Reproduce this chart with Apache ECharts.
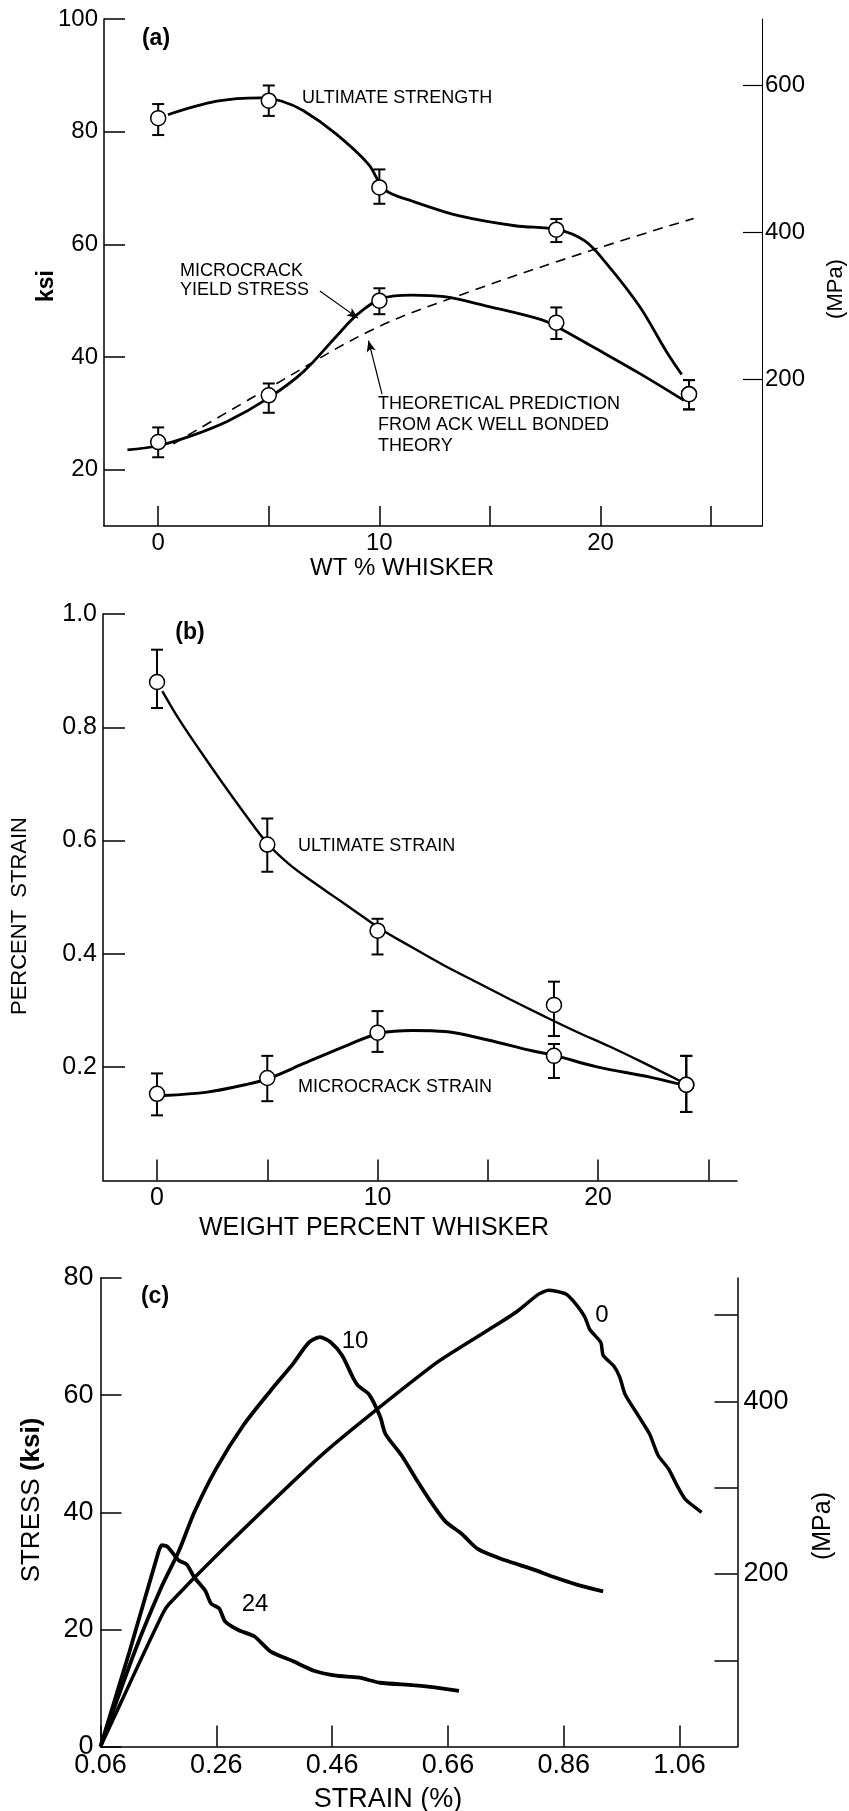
<!DOCTYPE html>
<html>
<head>
<meta charset="utf-8">
<script src="https://cdn.jsdelivr.net/npm/echarts@6/dist/echarts.min.js"></script>
<style>
  html, body { margin: 0; padding: 0; background: #fff; }
  #chart { width: 849px; height: 1811px; }
</style>
</head>
<body>
<div id="chart"></div>
<script>
// Panel (a): strength vs wt % whisker
const wtPoints = [0, 5, 10, 18, 24];
const ultStrength = [82.4, 85.5, 70.1, 62.6, 33.4];
const ultStrengthLo = [79.4, 82.8, 67.2, 60.4, 30.7];
const ultStrengthHi = [84.9, 88.2, 73.3, 64.5, 35.9];
const mcYield = [24.9, 33.2, 50.0, 46.1, 33.4];
const mcYieldLo = [22.2, 30.1, 47.6, 43.2, 30.7];
const mcYieldHi = [27.5, 35.3, 52.2, 48.8, 35.9];

// traced curves (x, ksi)
const ultStrengthCurve = [
    [0.44, 83.0], [2.65, 85.4], [4.61, 86.0], [5.59, 85.4], [6.57, 83.7], [8.04, 79.6],
    [9.51, 74.2], [10.24, 69.7], [11.47, 67.7], [13.68, 65.0], [16.13, 63.3], [18.07, 62.6],
    [19.29, 60.6], [20.29, 56.5], [21.76, 49.0], [22.99, 40.9], [23.67, 36.9]
];
const mcYieldCurve = [
    [-1.39, 23.5], [-0.05, 24.2], [1.42, 25.9], [3.14, 28.6], [4.98, 32.7], [6.57, 37.4],
    [8.04, 43.6], [9.02, 47.6], [10.12, 50.4], [11.47, 51.0], [12.94, 50.7], [14.9, 49.0],
    [17.35, 46.6], [18.07, 45.3], [19.79, 41.5], [21.76, 37.1], [23.77, 32.3]
];
const ackTheory = [
    [0.69, 24.6], [5.1, 34.7], [9.76, 45.0], [14.16, 51.7], [19.79, 59.2], [24.21, 64.6]
];
const arrowsA = [
    [[7.31, 51.7], [9.03, 46.9]],
    [[10.12, 33.4], [9.51, 42.9]]
];

// Panel (b): strain vs weight percent whisker
const ultStrain = [0.880, 0.593, 0.441, 0.310, 0.169];
const ultStrainLo = [0.834, 0.545, 0.399, 0.255, 0.121];
const ultStrainHi = [0.937, 0.639, 0.462, 0.351, 0.220];
const mcStrain = [0.153, 0.181, 0.261, 0.220, 0.169];
const mcStrainLo = [0.115, 0.140, 0.227, 0.181, 0.121];
const mcStrainHi = [0.189, 0.220, 0.299, 0.241, 0.220];

const ultStrainCurve = [
    [0.24, 0.864], [1.0, 0.814], [2.0, 0.756], [3.0, 0.700], [4.0, 0.646], [5.05, 0.593],
    [6.0, 0.558], [7.0, 0.529], [8.0, 0.502], [9.0, 0.475], [10.1, 0.445], [11.5, 0.413],
    [13.0, 0.380], [14.5, 0.350], [16.0, 0.320], [17.5, 0.291], [19.0, 0.263], [20.5, 0.237],
    [22.0, 0.209], [23.7, 0.176]
];
const mcStrainCurve = [
    [0.3, 0.150], [2.28, 0.156], [4.0, 0.169], [5.05, 0.180], [6.69, 0.207], [8.65, 0.239],
    [10.1, 0.260], [11.6, 0.265], [13.07, 0.263], [15.0, 0.248], [17.0, 0.229], [18.1, 0.220],
    [19.9, 0.201], [22.4, 0.182], [24.0, 0.167]
];

// Panel (c): stress-strain curves for 0, 10, 24 wt %
const curve0 = [
    [0.06, 0], [0.12, 12.8], [0.168, 22.8], [0.178, 24.3], [0.26, 32.6], [0.449, 50.4],
    [0.637, 65.3], [0.731, 71.2], [0.778, 74.2], [0.816, 77.2], [0.834, 77.9], [0.863, 77.3],
    [0.877, 76.0], [0.896, 73.4], [0.905, 71.2], [0.924, 69.0], [0.928, 66.8], [0.947, 64.9],
    [0.957, 63.0], [0.966, 60.1], [0.99, 56.3], [1.008, 53.4], [1.023, 49.7], [1.041, 47.4],
    [1.056, 44.5], [1.07, 42.2], [1.098, 40.0]
];
const curve10 = [
    [0.06, 0], [0.119, 16.2], [0.166, 27.4], [0.195, 33.3], [0.222, 40.0], [0.26, 47.5],
    [0.307, 54.9], [0.354, 60.8], [0.392, 65.3], [0.42, 69.0], [0.439, 69.9], [0.458, 69.0],
    [0.477, 66.8], [0.496, 63.0], [0.505, 61.6], [0.524, 60.1], [0.543, 56.3], [0.552, 53.4],
    [0.58, 49.7], [0.608, 45.2], [0.627, 42.3], [0.655, 38.5], [0.684, 36.3], [0.712, 33.7],
    [0.759, 31.8], [0.806, 30.3], [0.844, 28.9], [0.881, 27.7], [0.928, 26.5]
];
const curve24 = [
    [0.06, 0], [0.11, 16.2], [0.16, 33.2], [0.166, 34.4], [0.176, 34.1], [0.195, 31.8],
    [0.209, 31.1], [0.222, 28.9], [0.241, 26.6], [0.251, 24.4], [0.265, 23.6], [0.275, 21.4],
    [0.298, 19.9], [0.326, 18.8], [0.354, 16.2], [0.392, 14.6], [0.43, 12.9], [0.467, 12.1],
    [0.505, 11.8], [0.543, 10.9], [0.599, 10.5], [0.637, 10.1], [0.679, 9.5]
];

// tick values
const wtTicks = [0, 5, 10, 15, 20, 25];
const wtLabels = [0, 10, 20];
const ksiTicksA = [20, 40, 60, 80, 100];
const mpaTicksA = [200, 400, 600];
const strainTicksB = [0.2, 0.4, 0.6, 0.8, 1.0];
const strainTicksC = [0.06, 0.26, 0.46, 0.66, 0.86, 1.06];
const mpaTicksC = [100, 200, 300, 400, 500];
const mpaLabelsC = [200, 400];

const FONT = 'Liberation Sans, Arial, sans-serif';
const BLACK = '#000';

function pts(xs, ys) {
    return xs.map((x, i) => [x, ys[i]]);
}
function bars(xs, lo, hi) {
    return xs.map((x, i) => [x, lo[i], hi[i]]);
}

// Error bar drawn with the axis scale
function errorBar(params, api) {
    const x = api.value(0);
    const top = api.coord([x, api.value(2)]);
    const bot = api.coord([x, api.value(1)]);
    const w = 6;
    const st = { stroke: BLACK, lineWidth: 2 };
    return {
        type: 'group',
        children: [
            { type: 'line', shape: { x1: top[0], y1: top[1], x2: bot[0], y2: bot[1] }, style: st },
            { type: 'line', shape: { x1: top[0] - w, y1: top[1], x2: top[0] + w, y2: top[1] }, style: st },
            { type: 'line', shape: { x1: bot[0] - w, y1: bot[1], x2: bot[0] + w, y2: bot[1] }, style: st }
        ]
    };
}

function axisBase(extra) {
    return Object.assign({
        type: 'value',
        splitLine: { show: false },
        axisLine: { show: true, onZero: false, lineStyle: { color: BLACK, width: 1.5 } },
        axisTick: { show: true, inside: true, length: 20, lineStyle: { color: BLACK, width: 1.5 } },
        axisLabel: { color: BLACK, fontFamily: FONT, fontSize: 24, margin: 6 }
    }, extra);
}

function curve(name, data, xi, yi, width, dashed, smooth) {
    return {
        name: name, type: 'line', xAxisIndex: xi, yAxisIndex: yi,
        data: data, smooth: smooth == null ? 0.35 : smooth, symbol: 'none', z: 2,
        lineStyle: { color: BLACK, width: width, type: dashed ? [10, 7] : 'solid' }
    };
}
function circles(name, data, xi, yi) {
    return {
        name: name, type: 'scatter', xAxisIndex: xi, yAxisIndex: yi,
        data: data, symbol: 'circle', symbolSize: 15, z: 5,
        itemStyle: { color: '#fff', borderColor: BLACK, borderWidth: 1.5, opacity: 1 }
    };
}
function errors(name, data, xi, yi) {
    return {
        name: name, type: 'custom', xAxisIndex: xi, yAxisIndex: yi,
        data: data, renderItem: errorBar, z: 3,
        encode: { x: 0, y: [1, 2] }
    };
}
function txt(text, x, y, size, opts) {
    opts = opts || {};
    return {
        type: 'text', x: x, y: y, rotation: opts.rot || 0, z: 10,
        style: {
            text: text, fill: BLACK, fontFamily: FONT, fontSize: size,
            fontWeight: opts.bold ? 'bold' : 'normal',
            align: opts.align || 'center', verticalAlign: 'middle',
            lineHeight: opts.lh || size, rich: opts.rich
        }
    };
}

const chart = echarts.init(document.getElementById('chart'));

const option = {
    backgroundColor: '#fff',
    animation: false,
    grid: [
        { left: 104, top: 19, width: 658, height: 507, outerBoundsMode: 'none' },
        { left: 103, top: 614, width: 634, height: 566.5, outerBoundsMode: 'none' },
        { left: 100.5, top: 1278, width: 637, height: 468.6, outerBoundsMode: 'none' }
    ],
    xAxis: [
        axisBase({
            gridIndex: 0, min: -2.45, max: 27.3,
            axisTick: { show: true, inside: true, length: 20, customValues: wtTicks, lineStyle: { color: BLACK, width: 1.5 } },
            axisLabel: { color: BLACK, fontFamily: FONT, fontSize: 24, margin: 5, customValues: wtLabels }
        }),
        axisBase({
            gridIndex: 1, min: -2.45, max: 26.3,
            axisTick: { show: true, inside: true, length: 21, customValues: wtTicks, lineStyle: { color: BLACK, width: 1.5 } },
            axisLabel: { color: BLACK, fontFamily: FONT, fontSize: 25, margin: 5, customValues: wtLabels }
        }),
        axisBase({
            gridIndex: 2, min: 0.06, max: 1.16,
            axisTick: { show: true, inside: true, length: 21, customValues: strainTicksC, lineStyle: { color: BLACK, width: 1.5 } },
            axisLabel: {
                color: BLACK, fontFamily: FONT, fontSize: 27, margin: 5, customValues: strainTicksC,
                formatter: v => v.toFixed(2)
            }
        })
    ],
    yAxis: [
        axisBase({
            gridIndex: 0, min: 10, max: 100,
            axisTick: { show: true, inside: true, length: 21, customValues: ksiTicksA, lineStyle: { color: BLACK, width: 1.5 } },
            axisLabel: { color: BLACK, fontFamily: FONT, fontSize: 24, margin: 6, customValues: ksiTicksA }
        }),
        axisBase({
            gridIndex: 0, min: 0, max: 690, position: 'right',
            axisLine: { show: true, onZero: false, lineStyle: { color: BLACK, width: 1 } },
            axisTick: { show: true, inside: true, length: 19, customValues: mpaTicksA, lineStyle: { color: BLACK, width: 1.2 } },
            axisLabel: { color: BLACK, fontFamily: FONT, fontSize: 24, margin: 3, customValues: mpaTicksA }
        }),
        axisBase({
            gridIndex: 1, min: 0, max: 1,
            axisTick: { show: true, inside: true, length: 22, customValues: strainTicksB, lineStyle: { color: BLACK, width: 1.5 } },
            axisLabel: {
                color: BLACK, fontFamily: FONT, fontSize: 25, margin: 6, customValues: strainTicksB,
                formatter: v => v.toFixed(1)
            }
        }),
        axisBase({
            gridIndex: 2, min: 0, max: 80, interval: 20,
            axisTick: { show: true, inside: true, length: 21, lineStyle: { color: BLACK, width: 1.5 } },
            axisLabel: { color: BLACK, fontFamily: FONT, fontSize: 27, margin: 7 }
        }),
        axisBase({
            gridIndex: 2, min: 0, max: 543, position: 'right',
            axisTick: { show: true, inside: true, length: 23, customValues: mpaTicksC, lineStyle: { color: BLACK, width: 1.5 } },
            axisLabel: { color: BLACK, fontFamily: FONT, fontSize: 27, margin: 6, customValues: mpaLabelsC }
        })
    ],
    series: [
        // (a)
        curve('Ultimate strength', ultStrengthCurve, 0, 0, 2.8),
        Object.assign(curve('Microcrack yield stress', mcYieldCurve, 0, 0, 2.8), {
            markLine: {
                silent: true, symbol: ['none', 'arrow'], symbolSize: [7, 11],
                lineStyle: { color: BLACK, width: 1.2, type: 'solid' },
                label: { show: false },
                data: arrowsA.map(a => [{ coord: a[0] }, { coord: a[1] }])
            }
        }),
        curve('ACK theory', ackTheory, 0, 0, 1.6, true),
        errors('Ultimate strength err', bars(wtPoints, ultStrengthLo, ultStrengthHi), 0, 0),
        errors('Microcrack yield err', bars(wtPoints, mcYieldLo, mcYieldHi), 0, 0),
        circles('Ultimate strength pts', pts(wtPoints, ultStrength), 0, 0),
        circles('Microcrack yield pts', pts(wtPoints, mcYield), 0, 0),
        // (b)
        curve('Ultimate strain', ultStrainCurve, 1, 2, 2.4),
        curve('Microcrack strain', mcStrainCurve, 1, 2, 3),
        errors('Ultimate strain err', bars(wtPoints, ultStrainLo, ultStrainHi), 1, 2),
        errors('Microcrack strain err', bars(wtPoints, mcStrainLo, mcStrainHi), 1, 2),
        circles('Ultimate strain pts', pts(wtPoints, ultStrain), 1, 2),
        circles('Microcrack strain pts', pts(wtPoints, mcStrain), 1, 2),
        // (c)
        curve('0', curve0, 2, 3, 3.5, false, 0.2),
        curve('10', curve10, 2, 3, 3.8, false, 0.25),
        curve('24', curve24, 2, 3, 3.8, false, 0.2)
    ],
    graphic: [
        // (a)
        txt('(a)', 156, 39, 23, { bold: true }),
        txt('ULTIMATE STRENGTH', 302, 98, 18, { align: 'left' }),
        txt('MICROCRACK\nYIELD STRESS', 180, 281, 18, { align: 'left', lh: 19 }),
        txt('THEORETICAL PREDICTION\nFROM ACK WELL BONDED\nTHEORY', 378, 425, 18, { align: 'left', lh: 21 }),
        txt('ksi', 47, 286, 23, { bold: true, rot: Math.PI / 2 }),
        txt('(MPa)', 836, 289, 22, { rot: Math.PI / 2 }),
        txt('WT % WHISKER', 402, 568, 24),
        // (b)
        txt('(b)', 190, 633, 23, { bold: true }),
        txt('ULTIMATE STRAIN', 298, 846, 18, { align: 'left' }),
        txt('MICROCRACK STRAIN', 298, 1087, 18, { align: 'left' }),
        txt('PERCENT  STRAIN', 20, 916, 22, { rot: Math.PI / 2 }),
        txt('WEIGHT PERCENT WHISKER', 374, 1228, 25),
        // (c)
        txt('(c)', 155, 1297, 23, { bold: true }),
        txt('0', 602, 1315, 24),
        txt('10', 355, 1341, 24),
        txt('24', 255, 1604, 24),
        txt('{n|STRESS }{b|(ksi)}', 32, 1500, 26, {
            rot: Math.PI / 2,
            rich: {
                n: { fontFamily: FONT, fontSize: 26, fill: BLACK },
                b: { fontFamily: FONT, fontSize: 26, fontWeight: 'bold', fill: BLACK }
            }
        }),
        txt('(MPa)', 823, 1526, 25, { rot: Math.PI / 2 }),
        txt('STRAIN (%)', 388, 1800, 27)
    ]
};

chart.setOption(option);
</script>
</body>
</html>
